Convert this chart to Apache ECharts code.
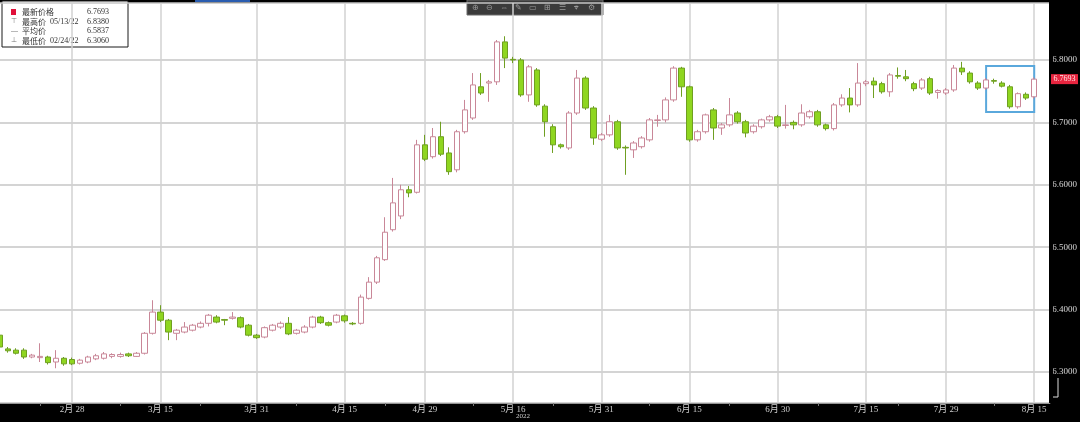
<!DOCTYPE html>
<html><head><meta charset="utf-8">
<script src="https://cdn.jsdelivr.net/npm/echarts@6/dist/echarts.min.js"></script>
<style>html,body{margin:0;padding:0;background:#000;}#c{width:1080px;height:422px;}</style>
</head><body><div id="c"></div>
<script>
const dates = [
 '2/15','2/16','2/17','2/18','2/21','2/22','2/23','2/24','2/25','2/28',
 '3/1','3/2','3/3','3/4','3/7','3/8','3/9','3/10','3/11','3/14','3/15',
 '3/16','3/17','3/18','3/21','3/22','3/23','3/24','3/25','3/28','3/29','3/30','3/31',
 '4/1','4/4','4/5','4/6','4/7','4/8','4/11','4/12','4/13','4/14','4/15',
 '4/18','4/19','4/20','4/21','4/22','4/25','4/26','4/27','4/28','4/29',
 '5/2','5/3','5/4','5/5','5/6','5/9','5/10','5/11','5/12','5/13','5/16',
 '5/17','5/18','5/19','5/20','5/23','5/24','5/25','5/26','5/27','5/30','5/31',
 '6/1','6/2','6/3','6/6','6/7','6/8','6/9','6/10','6/13','6/14','6/15',
 '6/16','6/17','6/20','6/21','6/22','6/23','6/24','6/27','6/28','6/29','6/30',
 '7/1','7/4','7/5','7/6','7/7','7/8','7/11','7/12','7/13','7/14','7/15',
 '7/18','7/19','7/20','7/21','7/22','7/25','7/26','7/27','7/28','7/29',
 '8/1','8/2','8/3','8/4','8/5','8/8','8/9','8/10','8/11','8/12','8/15'
];
const padDates = ['8/16','8/17'];
const opens = [
 6.359,6.337,6.335,6.335,6.324,6.323,6.324,6.316,6.322,6.320,
 6.314,6.316,6.321,6.322,6.325,6.325,6.329,6.325,6.330,6.362,6.396,
 6.383,6.362,6.364,6.367,6.372,6.378,6.388,6.384,6.386,6.387,6.375,6.359,
 6.356,6.367,6.372,6.378,6.362,6.364,6.372,6.388,6.379,6.380,6.390,
 6.378,6.378,6.418,6.444,6.480,6.528,6.550,6.592,6.588,6.664,
 6.645,6.677,6.651,6.624,6.685,6.707,6.757,6.763,6.765,6.829,6.801,
 6.800,6.744,6.784,6.726,6.693,6.664,6.659,6.715,6.771,6.723,6.673,
 6.680,6.701,6.660,6.656,6.661,6.672,6.703,6.704,6.736,6.787,6.757,
 6.672,6.685,6.720,6.691,6.696,6.715,6.701,6.685,6.693,6.704,6.709,
 6.695,6.700,6.696,6.709,6.717,6.696,6.690,6.728,6.739,6.728,6.762,
 6.766,6.762,6.749,6.775,6.773,6.762,6.755,6.770,6.748,6.747,
 6.752,6.787,6.779,6.763,6.755,6.767,6.763,6.757,6.725,6.745,6.741
];
const closes = [
 6.340,6.334,6.330,6.324,6.327,6.325,6.315,6.322,6.313,6.313,
 6.319,6.324,6.326,6.329,6.328,6.328,6.326,6.330,6.362,6.396,6.383,
 6.364,6.367,6.372,6.375,6.378,6.391,6.380,6.383,6.388,6.372,6.359,6.355,
 6.371,6.375,6.378,6.361,6.367,6.372,6.388,6.379,6.375,6.391,6.382,
 6.377,6.420,6.444,6.483,6.524,6.571,6.592,6.587,6.664,6.641,
 6.677,6.649,6.621,6.685,6.720,6.760,6.747,6.765,6.829,6.803,6.800,
 6.744,6.789,6.728,6.701,6.664,6.661,6.715,6.771,6.723,6.675,6.680,
 6.701,6.659,6.659,6.667,6.675,6.704,6.704,6.736,6.787,6.757,6.672,
 6.685,6.712,6.691,6.696,6.712,6.701,6.683,6.694,6.704,6.709,6.694,
 6.696,6.696,6.715,6.717,6.696,6.690,6.728,6.739,6.728,6.763,6.765,
 6.760,6.749,6.776,6.774,6.770,6.754,6.768,6.747,6.751,6.752,
 6.787,6.781,6.765,6.755,6.768,6.766,6.758,6.725,6.746,6.739,6.7693
];
const lows = [
 6.336,6.331,6.328,6.321,6.322,6.316,6.312,6.306,6.310,6.311,
 6.312,6.314,6.319,6.320,6.322,6.323,6.324,6.324,6.328,6.360,6.380,
 6.351,6.351,6.362,6.365,6.370,6.373,6.378,6.375,6.384,6.370,6.357,6.353,
 6.354,6.365,6.369,6.359,6.360,6.362,6.370,6.377,6.373,6.378,6.379,
 6.375,6.376,6.416,6.441,6.478,6.525,6.545,6.580,6.586,6.638,
 6.642,6.646,6.616,6.620,6.682,6.704,6.744,6.733,6.760,6.787,6.795,
 6.741,6.733,6.725,6.677,6.651,6.658,6.656,6.712,6.720,6.664,6.670,
 6.677,6.656,6.616,6.643,6.658,6.669,6.693,6.700,6.733,6.741,6.669,
 6.669,6.682,6.672,6.680,6.693,6.698,6.676,6.682,6.690,6.701,6.691,
 6.690,6.689,6.693,6.706,6.693,6.687,6.687,6.725,6.716,6.725,6.758,
 6.739,6.746,6.741,6.770,6.766,6.750,6.752,6.744,6.738,6.744,
 6.749,6.776,6.762,6.752,6.752,6.762,6.756,6.722,6.722,6.736,6.738
];
const highs = [
 6.362,6.340,6.338,6.338,6.329,6.346,6.326,6.335,6.324,6.323,
 6.321,6.326,6.329,6.332,6.330,6.331,6.331,6.332,6.364,6.415,6.407,
 6.385,6.369,6.380,6.377,6.381,6.393,6.391,6.385,6.396,6.389,6.377,6.361,
 6.373,6.377,6.381,6.388,6.369,6.375,6.390,6.390,6.381,6.393,6.392,
 6.380,6.424,6.452,6.486,6.548,6.611,6.600,6.598,6.672,6.680,
 6.691,6.701,6.660,6.688,6.736,6.779,6.779,6.768,6.832,6.838,6.805,
 6.803,6.792,6.787,6.729,6.697,6.666,6.718,6.784,6.774,6.726,6.683,
 6.712,6.704,6.663,6.670,6.678,6.707,6.712,6.740,6.790,6.789,6.759,
 6.688,6.714,6.723,6.699,6.739,6.718,6.704,6.697,6.706,6.712,6.712,
 6.728,6.703,6.729,6.720,6.720,6.698,6.731,6.745,6.755,6.795,6.768,
 6.772,6.765,6.779,6.788,6.784,6.765,6.771,6.773,6.753,6.755,
 6.792,6.797,6.782,6.766,6.771,6.770,6.766,6.760,6.748,6.748,6.772
];
const labelDates = ['2/28','3/15','3/31','4/15','4/29','5/16','5/31','6/15','6/30','7/15','7/29','8/15'];
const minorTickDates = ['2/22','3/8','3/22','4/7','4/22','5/9','5/23','6/8','6/22','7/7','7/21','8/8'];
const yearLabel = '2022';
const yearLabelDate = '5/16';
const lastPrice = 6.7693;
const legendNames = ['最新价格','最高价','平均价','最低价'];
const legendDates = ['','05/13/22','','02/24/22'];
const legendValues = ['6.7693','6.8380','6.5837','6.3060'];
const boxDates = ['8/5','8/15'];
const boxPrices = [6.7904, 6.7167];

const categories = dates.concat(padDates);
const candles = dates.map((d, i) => [opens[i], closes[i], lows[i], highs[i]]);

const chart = echarts.init(document.getElementById('c'), null, {renderer: 'canvas'});

const legendChildren = [
  {type: 'rect', shape: {x: 0, y: 0, width: 126, height: 46}, style: {fill: '#fff', stroke: '#1a1a1a', lineWidth: 1}},
  {type: 'rect', shape: {x: 9, y: 8, width: 5, height: 6}, style: {fill: '#e0103a'}}
];
const glyphs = ['', '⊤', '—', '⊥'];
const rowY = [11, 20.5, 30, 39.5];
legendNames.forEach((n, i) => {
  if (glyphs[i]) legendChildren.push({type: 'text', x: 9, y: rowY[i], style: {text: glyphs[i], fontSize: 7, fill: '#777', verticalAlign: 'middle', textVerticalAlign: 'middle'}});
  legendChildren.push({type: 'text', x: 20, y: rowY[i], style: {text: n, fontSize: 8, fill: '#333', fontFamily: 'Noto Sans CJK SC', verticalAlign: 'middle', textVerticalAlign: 'middle'}});
  if (legendDates[i]) legendChildren.push({type: 'text', x: 48, y: rowY[i], style: {text: legendDates[i], fontSize: 8, fill: '#333', fontFamily: 'Liberation Serif', verticalAlign: 'middle', textVerticalAlign: 'middle'}});
  legendChildren.push({type: 'text', x: 107, y: rowY[i], style: {text: legendValues[i], fontSize: 8, fill: '#333', fontFamily: 'Liberation Serif', align: 'right', textAlign: 'right', verticalAlign: 'middle', textVerticalAlign: 'middle'}});
});

const toolIcons = ['⊕','⊖','⇔','✎','▭','⊞','☰','⌖','⚙'];
const toolChildren = [{type: 'rect', shape: {x: 0, y: 0, width: 136, height: 15}, style: {fill: '#3b3b3b', stroke: '#6a6a6a', lineWidth: 1}}];
toolIcons.forEach((t, i) => {
  toolChildren.push({type: 'text', x: 8 + i * 14.5, y: 7.5, style: {text: t, fontSize: 8, fill: '#9a9a9a', align: 'center', textAlign: 'center', verticalAlign: 'middle', textVerticalAlign: 'middle'}});
});

const option = {
  animation: false,
  backgroundColor: '#000',
  grid: {left: -0.2, right: 29, top: 3, bottom: 19, show: true, backgroundColor: '#fff', borderWidth: 0},
  xAxis: {
    type: 'category',
    data: categories,
    boundaryGap: false,
    axisLine: {show: false},
    axisTick: {show: true, interval: (i, v) => minorTickDates.includes(v), length: 3, lineStyle: {color: '#777'}},
    axisLabel: {
      interval: (i, v) => labelDates.includes(v),
      formatter: v => { const p = v.split('/'); return p[0] + '月 ' + p[1]; },
      color: '#cfcfcf', fontSize: 9, margin: 2, fontFamily: 'Liberation Serif, Noto Sans CJK SC'
    },
    splitLine: {show: true, interval: (i, v) => labelDates.includes(v), lineStyle: {color: '#d2d2d2', width: 1.5}}
  },
  yAxis: {
    type: 'value',
    position: 'right',
    min: 6.2503,
    max: 6.8913,
    scale: true,
    axisLine: {show: false},
    axisTick: {show: true, length: 3, lineStyle: {color: '#c0607a'}},
    axisLabel: {
      showMinLabel: false, showMaxLabel: false,
      formatter: v => (Math.abs(v * 10 - Math.round(v * 10)) < 1e-6 ? v.toFixed(4) : ''),
      color: '#d8d8d8', fontSize: 9, margin: 2, fontFamily: 'Liberation Serif'
    },
    splitLine: {show: true, lineStyle: {color: '#c6c6c6', width: 1.5}}
  },
  series: [{
    type: 'candlestick',
    data: candles,
    barWidth: '75%',
    itemStyle: {color: '#ffffff', color0: '#8fd620', borderColor: '#c98798', borderColor0: '#6f9f22', borderWidth: 1},
    markArea: {
      silent: true,
      itemStyle: {color: 'rgba(0,0,0,0)', borderColor: '#5aa8dc', borderWidth: 2},
      data: [[{xAxis: boxDates[0], yAxis: boxPrices[0]}, {xAxis: boxDates[1], yAxis: boxPrices[1]}]]
    }
  }],
  graphic: [
    {type: 'rect', shape: {x: 1049, y: 0, width: 4, height: 403}, style: {fill: '#000'}, z: 100},
    {type: 'rect', shape: {x: 195, y: 0, width: 55, height: 2}, style: {fill: '#2a5db0'}},
    {type: 'group', x: 467, y: 0, children: toolChildren},
    {type: 'group', x: 2, y: 1, children: legendChildren},
    {type: 'polyline', shape: {points: [[1058, 378], [1058, 397], [1049, 397]]}, style: {stroke: '#dddddd', lineWidth: 1, fill: null}}
  ]
};
chart.setOption(option);
const yx = chart.convertToPixel({xAxisIndex: 0}, yearLabelDate);
const ly = chart.convertToPixel({yAxisIndex: 0}, lastPrice);
chart.setOption({graphic: option.graphic.concat([
  {type: 'text', x: yx + 10, y: 416, style: {text: yearLabel, fontSize: 7, fill: '#cfcfcf', fontFamily: 'Liberation Serif', align: 'center', textAlign: 'center', verticalAlign: 'middle', textVerticalAlign: 'middle'}},
  {type: 'rect', z: 101, shape: {x: 1051, y: ly - 5, width: 27, height: 10}, style: {fill: '#e8253f'}},
  {type: 'text', z: 102, x: 1064.5, y: ly, style: {text: lastPrice.toFixed(4), fontSize: 8, fill: '#ffe6e6', fontFamily: 'Liberation Serif', align: 'center', textAlign: 'center', verticalAlign: 'middle', textVerticalAlign: 'middle'}}
])});
</script></body></html>
